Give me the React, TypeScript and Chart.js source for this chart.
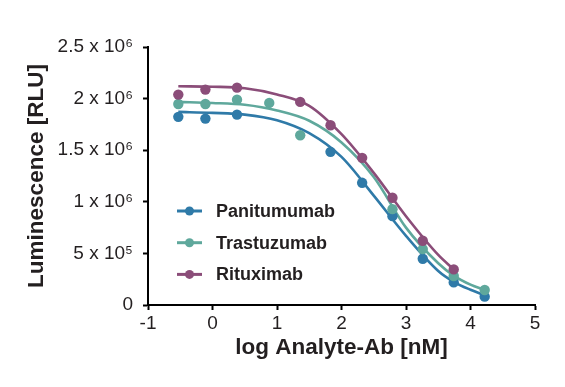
import React, { useEffect, useRef } from "react";
import { Chart, registerables } from "chart.js";

Chart.register(...registerables);

const seriesNames = ["Panitumumab", "Trastuzumab", "Rituximab"];
const seriesColors = ["#2f7aa8", "#5fa89c", "#8b4d79"];

// measured points: x = log concentration (nM), y = luminescence (RLU)
const logConc = [-0.53, -0.11, 0.38, 0.88, 1.36, 1.83, 2.32, 2.79, 3.26, 3.74, 4.22];
const panitumumab = [1823000, 1806000, 1845000, null, null, 1484000, 1184000, 861000, 448000, 219000, 81000];
const trastuzumab = [1948000, 1948000, 1990000, 1958000, 1645000, null, null, 929000, 542000, 281000, 145000];
const rituximab = [2039000, 2087000, 2106000, null, 1968000, 1742000, 1426000, 1039000, 623000, 345000, null];

// fitted curves
const fitLogConc = [-0.53, 0, 0.5, 1, 1.5, 2, 2.5, 3, 3.5, 3.74, 4, 4.22];
const panitumumabFit = [1871000, 1862000, 1845000, 1790000, 1665000, 1435000, 1060000, 670000, 330000, 225000, 148000, 95000];
const trastuzumabFit = [1968000, 1958000, 1940000, 1885000, 1785000, 1575000, 1240000, 750000, 405000, 285000, 197000, 145000];
const rituximabFit = [2120000, 2115000, 2100000, 2040000, 1930000, 1655000, 1280000, 860000, 485000, 345000, null, null];

const xMin = -1;
const xMax = 5;
const yMax = 2500000;
const yStep = 500000;
const yTickLabels = ["0", "5 x 10⁵", "1 x 10⁶", "1.5 x 10⁶", "2 x 10⁶", "2.5 x 10⁶"];
const xAxisTitle = "log Analyte-Ab [nM]";
const yAxisTitle = "Luminescence [RLU]";

const FONT = "'Liberation Sans', Arial, Helvetica, sans-serif";
const TEXT = "#231f20";

const pointsSets = [panitumumab, trastuzumab, rituximab];
const fitSets = [panitumumabFit, trastuzumabFit, rituximabFit];

const legendPlugin = {
  id: "customLegend",
  afterDatasetsDraw(chart: any) {
    const { ctx, chartArea } = chart;
    const x0 = chartArea.left + 29;
    const y0 = chartArea.top + 164;
    const gap = 31.7;
    ctx.save();
    seriesNames.forEach((name, i) => {
      const y = y0 + gap * i;
      const c = seriesColors[i];
      ctx.strokeStyle = c;
      ctx.lineWidth = 3;
      ctx.beginPath();
      ctx.moveTo(x0, y);
      ctx.lineTo(x0 + 25, y);
      ctx.stroke();
      ctx.fillStyle = c;
      ctx.beginPath();
      ctx.arc(x0 + 12.5, y, 4.5, 0, Math.PI * 2);
      ctx.fill();
      ctx.fillStyle = TEXT;
      ctx.font = `bold 18px ${FONT}`;
      ctx.textBaseline = "middle";
      ctx.textAlign = "left";
      ctx.fillText(name, x0 + 39, y + 1);
    });
    ctx.restore();
  },
};

export default function App() {
  const ref = useRef<HTMLCanvasElement | null>(null);

  useEffect(() => {
    if (!ref.current) return;
    const datasets: any[] = [];
    seriesNames.forEach((name, i) => {
      datasets.push({
        label: name + " fit",
        data: fitLogConc.map((x, k) => ({ x, y: fitSets[i][k] })),
        showLine: true,
        borderColor: seriesColors[i],
        backgroundColor: seriesColors[i],
        borderWidth: 2.6,
        pointRadius: 0,
        cubicInterpolationMode: "monotone",
        spanGaps: false,
        order: 5 - i,
      });
    });
    seriesNames.forEach((name, i) => {
      datasets.push({
        label: name,
        data: logConc
          .map((x, k) => ({ x, y: pointsSets[i][k] }))
          .filter((p) => p.y !== null),
        showLine: false,
        pointRadius: 5.2,
        pointBorderWidth: 0,
        pointBackgroundColor: seriesColors[i],
        backgroundColor: seriesColors[i],
        borderColor: seriesColors[i],
        order: 2 - i,
      });
    });

    const chart = new Chart(ref.current, {
      type: "scatter",
      data: { datasets },
      plugins: [legendPlugin],
      options: {
        animation: false,
        responsive: false,
        maintainAspectRatio: false,
        layout: { padding: { left: 0, top: 47, right: 30, bottom: 0 } },
        plugins: { legend: { display: false }, tooltip: { enabled: false } },
        scales: {
          x: {
            type: "linear",
            min: xMin,
            max: xMax,
            ticks: { stepSize: 1, color: TEXT, font: { size: 19, family: FONT }, padding: 2 },
            grid: {
              display: true,
              drawOnChartArea: false,
              drawTicks: true,
              tickLength: 5,
              tickColor: "#000",
              tickWidth: 2,
            },
            border: { display: true, color: "#000", width: 2 },
            title: {
              display: true,
              text: xAxisTitle,
              color: TEXT,
              font: { size: 22.5, weight: "bold", family: FONT },
              padding: { top: 0, bottom: 26 },
            },
            afterFit: (s: any) => {
              s.height = 82;
            },
          },
          y: {
            type: "linear",
            min: 0,
            max: yMax,
            ticks: {
              stepSize: yStep,
              color: TEXT,
              font: { size: 19, family: FONT },
              padding: 10,
              callback: (v: any) => yTickLabels[Math.round(Number(v) / yStep)],
            },
            grid: {
              display: true,
              drawOnChartArea: false,
              drawTicks: true,
              tickLength: 5,
              tickColor: "#000",
              tickWidth: 2,
            },
            border: { display: true, color: "#000", width: 2 },
            title: {
              display: true,
              text: yAxisTitle,
              color: TEXT,
              font: { size: 22.5, weight: "bold", family: FONT },
              padding: { top: 23, bottom: 0 },
            },
            afterFit: (s: any) => {
              s.width = 148;
            },
          },
        },
      } as any,
    });
    return () => chart.destroy();
  }, []);

  return (
    <div style={{ position: "fixed", left: 0, top: 0, width: 565, height: 387, background: "#fff" }}>
      <canvas ref={ref} width={565} height={387} style={{ display: "block" }} />
    </div>
  );
}
